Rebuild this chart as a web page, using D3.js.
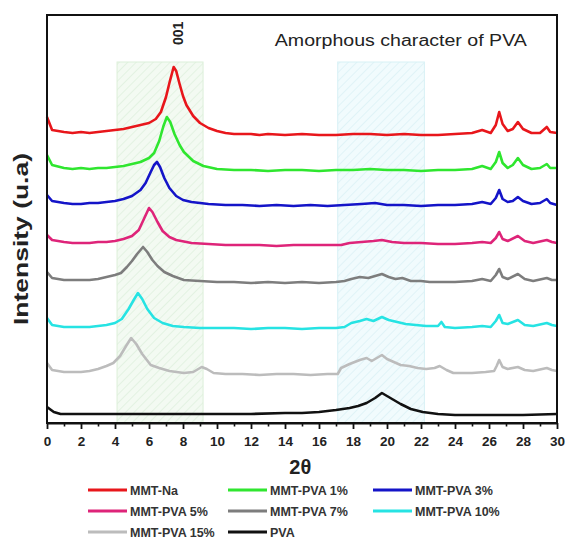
<!DOCTYPE html>
<html>
<head>
<meta charset="utf-8">
<script src="https://cdn.jsdelivr.net/npm/d3@7"></script>
<style>
  body { margin: 0; background: #fff; }
  svg { font-family: "Liberation Sans", Arial, sans-serif; }
</style>
</head>
<body>
<div id="chart"></div>
<script>
/* XRD patterns of MMT-Na, MMT-PVA composites and PVA */

const seriesNames = ['MMT-Na', 'MMT-PVA 1%', 'MMT-PVA 3%', 'MMT-PVA 5%', 'MMT-PVA 7%', 'MMT-PVA 10%', 'MMT-PVA 15%', 'PVA'];
const seriesColors = ['#e8161b', '#2fe62f', '#1414c8', '#de2479', '#7d7d7d', '#26e3e3', '#bcbcbc', '#111111'];
const xTicks = [0, 2, 4, 6, 8, 10, 12, 14, 16, 18, 20, 22, 24, 26, 28, 30];
const xMinorTicks = [1, 3, 5, 7, 9, 11, 13, 15, 17, 19, 21, 23, 25, 27, 29];
const bands = [[4.12, 9.18], [17.1, 22.2]];

// [2theta, intensity (a.u., stacked)]
const mmtNa = [[0,306],[0.3,293],[1,291],[1.5,290],[2,291],[2.5,290],[3,291],[3.5,292],[4,293],[4.5,294],[5,296],[5.5,298],[6,300],[6.4,304],[6.7,311],[7,326],[7.2,340],[7.45,356],[7.6,352],[7.8,339],[8,327],[8.2,318],[8.6,307],[9,300],[9.5,295],[10,292],[10.5,290],[11,289],[12,289],[12.5,288],[13,289],[14,288],[15,289],[16,288],[17,288],[18,289],[19,289],[20,288],[21,289],[22,288],[23,288],[24,289],[25,290],[25.6,293],[26.1,290],[26.4,298],[26.6,311],[26.8,299],[27.1,292],[27.4,294],[27.7,301],[28,294],[28.5,290],[29,290],[29.4,296],[29.6,291],[30,290]];
const pva1 = [[0,268],[0.3,258],[1,255],[1.5,254],[2,255],[2.5,254],[3,255],[3.5,255],[4,256],[4.5,257],[5,259],[5.5,261],[6,265],[6.3,270],[6.6,282],[6.85,297],[7.05,306],[7.25,301],[7.5,289],[7.8,278],[8.05,271],[8.6,262],[9.2,257],[10,254],[11,253],[12,253],[13,252],[14,253],[15,253],[16,252],[17,253],[18,253],[19,254],[20,253],[21,253],[22,252],[23,253],[24,253],[25,254],[25.6,257],[26.1,254],[26.4,261],[26.6,271],[26.8,260],[27.1,255],[27.4,258],[27.7,265],[28,258],[28.5,254],[29,255],[29.4,259],[29.6,255],[30,255]];
const pva3 = [[0,228],[0.3,222],[1,220],[1.5,219],[2,219],[2.5,220],[3,220],[3.5,221],[4,222],[4.5,224],[5,227],[5.5,233],[5.8,240],[6.1,251],[6.3,258],[6.47,261],[6.65,256],[6.9,245],[7.2,235],[7.6,227],[8,223],[8.5,221],[9.5,219],[10.5,218],[11.5,218],[12.5,217],[13.5,218],[14.5,217],[15.5,218],[16.5,217],[17.5,218],[18.5,219],[19.3,220],[20,218],[21,218],[22,217],[23,218],[24,218],[25,219],[25.6,221],[26.1,219],[26.4,225],[26.6,233],[26.8,224],[27.1,221],[27.4,222],[27.7,226],[28,222],[28.5,219],[29,220],[29.4,224],[29.6,220],[30,218]];
const pva5 = [[0,188],[0.3,183],[1,181],[1.5,180],[2,180],[2.5,180],[3,181],[3.5,181],[4,182],[4.5,184],[5,187],[5.4,193],[5.7,204],[6,215],[6.2,211],[6.5,201],[6.8,192],[7.2,186],[7.6,183],[8.5,180],[9.5,179],[10.5,178],[11.5,178],[12.5,178],[13.5,177],[14.5,178],[15.5,178],[16.5,178],[17.3,178],[17.8,180],[18.5,181],[19.2,182],[19.7,183],[20.3,181],[21,180],[22,180],[23,179],[24,179],[25,180],[25.6,181],[26.1,180],[26.4,185],[26.6,191],[26.8,184],[27.1,182],[27.7,187],[28.1,182],[28.6,180],[29.4,183],[29.7,181],[30,180]];
const pva7 = [[0,151],[0.3,145],[1,143],[1.5,143],[2,143],[2.5,143],[3,144],[3.5,146],[4,148],[4.35,150],[4.7,156],[5,162],[5.3,169],[5.65,176],[5.9,171],[6.2,163],[6.5,157],[6.9,151],[7.4,147],[8.05,143],[9,142],[10,141],[11,141],[12,140],[13,141],[14,140],[15,141],[16,140],[17,141],[17.5,142],[17.9,144],[18.4,146],[18.9,145],[19.3,147],[19.7,149],[20.1,146],[20.5,144],[20.9,145],[21.4,142],[22,142],[22.5,141],[23,141],[24,141],[25,142],[25.6,144],[26.1,142],[26.4,148],[26.6,154],[26.8,146],[27.1,144],[27.7,149],[28.1,144],[28.6,142],[29.4,145],[29.7,143],[30,143]];
const pva10 = [[0,105],[0.3,98],[1,96],[1.5,96],[2,96],[2.5,96],[3,97],[3.5,98],[4,100],[4.4,104],[4.8,114],[5.1,123],[5.35,130],[5.6,124],[5.9,114],[6.3,105],[6.8,100],[7.4,97],[8.05,96],[9,95],[10,95],[11,95],[12,94],[13,95],[14,95],[15,94],[16,95],[17,95],[17.5,96],[17.9,100],[18.4,102],[18.8,104],[19.2,102],[19.7,106],[20.1,103],[20.6,101],[21.1,99],[21.7,98],[22.3,97],[23,97],[23.2,101],[23.4,96],[24,95],[25,96],[25.6,97],[26.1,96],[26.4,102],[26.6,108],[26.8,100],[27.1,99],[27.7,103],[28.1,98],[28.6,97],[29.4,100],[29.7,98],[30,97]];
const pva15 = [[0,60],[0.3,53],[1,51],[1.5,51],[2,51],[2.5,52],[3,54],[3.5,57],[3.9,60],[4.3,67],[4.65,77],[4.95,85],[5.25,79],[5.6,69],[6.1,58],[6.6,55],[7.2,52],[8.05,50],[8.6,51],[9.1,56],[9.4,54],[9.8,50],[10.5,49],[11.5,49],[12.5,48],[13.5,49],[14.5,49],[15.5,48],[16.5,49],[17.1,49],[17.3,55],[17.8,59],[18.1,61],[18.4,63],[18.8,65],[19.1,62],[19.4,65],[19.7,68],[20,64],[20.4,61],[20.8,58],[21.3,57],[21.8,55],[22.3,54],[22.8,55],[23.1,57],[23.5,53],[23.9,50],[25,50],[25.8,51],[26.3,52],[26.45,57],[26.6,63],[26.8,56],[27.1,54],[27.7,56],[28.1,53],[28.6,52],[29.4,55],[29.7,53],[30,52]];
const pva = [[0,16],[0.4,11],[0.8,9],[2,9],[4,9],[6,9],[8,9],[10,9],[12,9],[14,10],[15,10],[16,11],[17,13],[17.8,15],[18.3,17],[18.8,20],[19.3,25],[19.7,30],[20,27],[20.4,23],[20.8,19],[21.4,14],[22.1,11],[23,9],[24,8],[26,8],[28,8],[30,9]];

const seriesData = [mmtNa, pva1, pva3, pva5, pva7, pva10, pva15, pva];

function renderChart() {
  const width = 565, height = 540;
  const margin = { top: 15, right: 8, bottom: 117, left: 47 };
  const inner = { width: width - margin.left - margin.right, height: height - margin.top - margin.bottom };

  const svg = d3.select('#chart').append('svg')
    .attr('width', width).attr('height', height);

  const defs = svg.append('defs');
  const addHatch = (id, bg, line) => {
    const p = defs.append('pattern').attr('id', id)
      .attr('patternUnits', 'userSpaceOnUse')
      .attr('width', 6).attr('height', 6)
      .attr('patternTransform', 'rotate(45)');
    p.append('rect').attr('width', 6).attr('height', 6).attr('fill', bg);
    p.append('line').attr('x1', 0).attr('y1', 0).attr('x2', 0).attr('y2', 6)
      .attr('stroke', line).attr('stroke-width', 1.6);
  };
  addHatch('hatch-green', '#f3faf2', '#e0f0de');
  addHatch('hatch-blue', '#f1fbfd', '#dcf2f6');

  const g = svg.append('g').attr('transform', `translate(${margin.left},${margin.top})`);

  const x = d3.scaleLinear().domain([0, 30]).range([0, inner.width]);
  const y = d3.scaleLinear().domain([0, 408]).range([inner.height, 0]);

  // shaded regions
  const bandTop = y(361);
  g.selectAll('.band').data(bands).enter().append('rect')
    .attr('x', d => x(d[0]))
    .attr('y', bandTop)
    .attr('width', d => x(d[1]) - x(d[0]))
    .attr('height', inner.height - bandTop)
    .attr('fill', (d, i) => i === 0 ? 'url(#hatch-green)' : 'url(#hatch-blue)')
    .attr('stroke', (d, i) => i === 0 ? '#dcefd9' : '#d8f1f5')
    .attr('stroke-width', 1);

  const line = d3.line().x(d => x(d[0])).y(d => y(d[1]));

  // draw bottom series first so upper ones sit on top
  seriesData.map((d, i) => i).reverse().forEach(i => {
    g.append('path')
      .datum(seriesData[i])
      .attr('fill', 'none')
      .attr('stroke', seriesColors[i])
      .attr('stroke-width', 2.6)
      .attr('stroke-linejoin', 'round')
      .attr('d', line);
  });

  // frame
  g.append('rect')
    .attr('width', inner.width).attr('height', inner.height)
    .attr('fill', 'none').attr('stroke', '#111').attr('stroke-width', 2);

  const xAxis = g.append('g').attr('transform', `translate(0,${inner.height})`)
    .call(d3.axisBottom(x).tickValues(xTicks).tickSizeInner(6).tickSizeOuter(0).tickPadding(7));
  xAxis.select('.domain').attr('stroke-width', 2).attr('stroke', '#111');
  xAxis.selectAll('.tick line').attr('stroke-width', 1.8).attr('stroke', '#111');
  xAxis.selectAll('.tick text')
    .style('font-size', '13.5px').style('font-weight', 'bold').attr('fill', '#222')
    .style('font-family', '"Liberation Sans", Arial, sans-serif');

  const minor = g.append('g').attr('transform', `translate(0,${inner.height})`)
    .call(d3.axisBottom(x).tickValues(xMinorTicks).tickSize(3.5).tickFormat(''));
  minor.select('.domain').remove();
  minor.selectAll('.tick line').attr('stroke-width', 1.6).attr('stroke', '#111');

  // annotations
  g.append('text')
    .attr('transform', `translate(${x(7.45) + 9},30) rotate(-90)`)
    .attr('text-anchor', 'start')
    .style('font-size', '14px').style('font-weight', 'bold').attr('fill', '#222')
    .text('001');

  g.append('text')
    .attr('x', x(13.4)).attr('y', 31)
    .attr('textLength', 252).attr('lengthAdjust', 'spacingAndGlyphs')
    .style('font-size', '16px').attr('fill', '#222')
    .text('Amorphous character of PVA');

  // axis titles
  svg.append('text')
    .attr('transform', `translate(28,${margin.top + inner.height / 2 + 20}) rotate(-90)`)
    .attr('text-anchor', 'middle')
    .attr('textLength', 172).attr('lengthAdjust', 'spacingAndGlyphs')
    .style('font-size', '20px').style('font-weight', 'bold').attr('fill', '#222')
    .text('Intensity (u.a)');

  svg.append('text')
    .attr('x', margin.left + x(14.9)).attr('y', 474)
    .attr('text-anchor', 'middle')
    .style('font-size', '20px').style('font-weight', 'bold').attr('fill', '#222')
    .text('2θ');

  // legend, 3 columns
  const colX = [88, 228, 373];
  const rowY = [490, 511, 532];
  const legend = svg.append('g');
  seriesNames.forEach((name, i) => {
    const lx = colX[i % 3], ly = rowY[Math.floor(i / 3)];
    legend.append('line')
      .attr('x1', lx).attr('x2', lx + 39).attr('y1', ly).attr('y2', ly)
      .attr('stroke', seriesColors[i]).attr('stroke-width', 2.8);
    legend.append('text')
      .attr('x', lx + 42).attr('y', ly).attr('dy', '0.36em')
      .style('font-size', '12.5px').style('font-weight', 'bold').attr('fill', '#333')
      .text(name);
  });
}

renderChart();
</script>
</body>
</html>
